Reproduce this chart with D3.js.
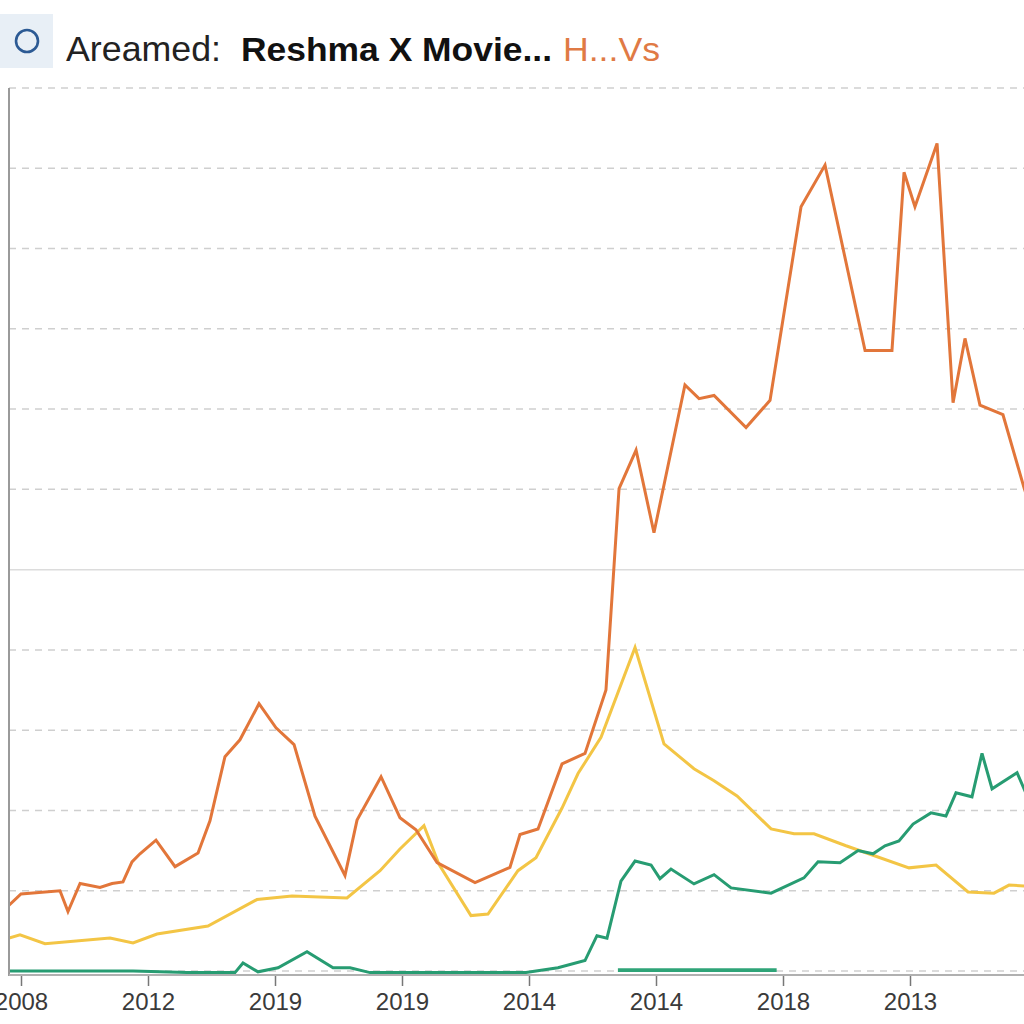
<!DOCTYPE html>
<html>
<head>
<meta charset="utf-8">
<script src="https://cdn.jsdelivr.net/npm/d3@7/dist/d3.min.js"></script>
<style>
  html, body { margin: 0; padding: 0; background: #ffffff; }
  svg { display: block; }
</style>
</head>
<body>
<svg id="chart" width="1024" height="1024"></svg>
<script>
// ---- Data (x in tick-index units, y in value units) ----
const tickLabels = ["2008", "2012", "2019", "2019", "2014", "2014", "2018", "2013", "2"];
const yTicks = [0, 10, 20, 30, 40, 50, 60, 70, 80, 90, 100, 110];

const orangeX = [-0.094, 0, 0.307, 0.370, 0.465, 0.622, 0.717, 0.803, 0.874, 0.937, 1.063, 1.213, 1.394, 1.488, 1.606, 1.724, 1.874, 2.008, 2.150, 2.315, 2.551, 2.646, 2.835, 2.984, 3.110, 3.276, 3.575, 3.850, 3.929, 4.071, 4.260, 4.441, 4.606, 4.709, 4.843, 4.984, 5.228, 5.339, 5.457, 5.709, 5.898, 6.142, 6.331, 6.646, 6.858, 6.953, 7.039, 7.213, 7.339, 7.433, 7.551, 7.732, 7.898, 7.984];
const orangeY = [8.2, 9.6, 10.0, 7.4, 10.9, 10.4, 10.9, 11.1, 13.6, 14.6, 16.3, 13.0, 14.7, 18.7, 26.7, 28.8, 33.3, 30.3, 28.2, 19.3, 11.9, 18.8, 24.2, 19.1, 17.6, 13.5, 11.0, 12.9, 17.0, 17.7, 25.8, 27.1, 35.0, 60.1, 64.9, 54.6, 73.0, 71.3, 71.7, 67.7, 71.1, 95.2, 100.4, 77.3, 77.3, 99.5, 95.2, 103.1, 70.8, 78.8, 70.5, 69.3, 60.2, 56.0];

const yellowX = [-0.094, -0.008, 0.189, 0.701, 0.882, 1.071, 1.472, 1.858, 2.134, 2.567, 2.827, 2.984, 3.173, 3.291, 3.543, 3.677, 3.913, 4.055, 4.260, 4.386, 4.567, 4.835, 5.063, 5.299, 5.457, 5.638, 5.906, 6.087, 6.244, 6.496, 6.992, 7.205, 7.457, 7.661, 7.780, 7.898];
const yellowY = [4.1, 4.5, 3.4, 4.1, 3.5, 4.6, 5.6, 8.9, 9.35, 9.1, 12.5, 15.2, 18.1, 13.3, 6.9, 7.1, 12.5, 14.1, 20.3, 24.6, 29.1, 40.3, 28.3, 25.2, 23.7, 21.8, 17.7, 17.1, 17.1, 15.6, 12.85, 13.2, 9.85, 9.7, 10.7, 10.6];

const greenX = [-0.094, 0.882, 1.307, 1.685, 1.748, 1.866, 2.024, 2.252, 2.457, 2.591, 2.748, 3.976, 4.228, 4.441, 4.535, 4.614, 4.724, 4.835, 4.961, 5.031, 5.118, 5.299, 5.457, 5.591, 5.906, 6.165, 6.276, 6.449, 6.591, 6.709, 6.803, 6.913, 7.024, 7.165, 7.283, 7.362, 7.488, 7.567, 7.646, 7.843, 7.945];
const greenY = [0, 0, -0.2, -0.2, 1.0, -0.1, 0.4, 2.4, 0.4, 0.4, -0.2, -0.2, 0.4, 1.3, 4.4, 4.1, 11.2, 13.7, 13.2, 11.5, 12.7, 10.85, 12.0, 10.35, 9.7, 11.6, 13.6, 13.5, 15.0, 14.6, 15.6, 16.2, 18.3, 19.7, 19.3, 22.2, 21.7, 27.1, 22.7, 24.7, 21.0];

const greenBaseX = [4.70, 5.95];
const greenBaseY = [0.1, 0.1];

const titleParts = ["Areamed:", "Reshma X Movie...", "H...Vs"];

const seriesList = [
  { name: "yellow", xs: yellowX, ys: yellowY, color: "#f3c545", width: 3 },
  { name: "green", xs: greenX, ys: greenY, color: "#279c72", width: 3 },
  { name: "greenBase", xs: greenBaseX, ys: greenBaseY, color: "#2fa478", width: 3.8 },
  { name: "orange", xs: orangeX, ys: orangeY, color: "#e2763a", width: 3 }
];

// ---- Layout ----
const svg = d3.select("#chart");
const W = 1024, H = 1024;
const plotLeft = 9, plotRight = 1024, plotTop = 88, zeroY = 971, axisY = 975;

const x = d3.scaleLinear().domain([0, 8]).range([21, 21 + 127 * 8]);
const y = d3.scaleLinear().domain([0, 110]).range([zeroY, plotTop]);

svg.append("rect").attr("width", W).attr("height", H).attr("fill", "#ffffff");

// ---- Title ----
svg.append("rect").attr("x", 0).attr("y", 14).attr("width", 53).attr("height", 54)
  .attr("fill", "#e8eff6");
svg.append("circle").attr("cx", 27).attr("cy", 41).attr("r", 11)
  .attr("fill", "none").attr("stroke", "#2c5a94").attr("stroke-width", 2.6);

const titleFont = "'Liberation Sans', Arial, sans-serif";
svg.append("text").attr("x", 66).attr("y", 61)
  .attr("font-family", titleFont).attr("font-size", 35)
  .attr("textLength", 155).attr("lengthAdjust", "spacingAndGlyphs")
  .attr("fill", "#222").text(titleParts[0]);
svg.append("text").attr("x", 241).attr("y", 61)
  .attr("font-family", titleFont).attr("font-size", 34).attr("font-weight", "bold")
  .attr("textLength", 311).attr("lengthAdjust", "spacingAndGlyphs")
  .attr("fill", "#111").text(titleParts[1]);
svg.append("text").attr("x", 563).attr("y", 61)
  .attr("font-family", titleFont).attr("font-size", 34)
  .attr("textLength", 97).attr("lengthAdjust", "spacingAndGlyphs")
  .attr("fill", "#e07a45").text(titleParts[2]);

// ---- Gridlines ----
const grid = svg.append("g");
grid.selectAll("line").data(yTicks).enter().append("line")
  .attr("x1", plotLeft).attr("x2", plotRight)
  .attr("y1", d => y(d)).attr("y2", d => y(d))
  .attr("stroke", d => d === 50 ? "#dcdcdc" : "#cfcfcf")
  .attr("stroke-width", 1.5)
  .attr("stroke-dasharray", d => d === 50 ? null : "7,6");

// ---- Lines ----
const lineGen = d3.line().x(d => x(d[0])).y(d => y(d[1]));
const clip = svg.append("clipPath").attr("id", "plotclip");
clip.append("rect").attr("x", plotLeft).attr("y", 0).attr("width", plotRight - plotLeft).attr("height", axisY);

const linesG = svg.append("g").attr("clip-path", "url(#plotclip)");
seriesList.forEach(s => {
  const pts = s.xs.map((v, i) => [v, s.ys[i]]);
  linesG.append("path").datum(pts)
    .attr("d", lineGen)
    .attr("fill", "none")
    .attr("stroke", s.color)
    .attr("stroke-width", s.width)
    .attr("stroke-linejoin", "miter")
    .attr("stroke-linecap", "butt");
});

// ---- Axes ----
svg.append("line").attr("x1", plotLeft).attr("x2", plotLeft)
  .attr("y1", plotTop).attr("y2", axisY + 1)
  .attr("stroke", "#9a9a9a").attr("stroke-width", 2);

const xAxis = d3.axisBottom(x)
  .tickValues(d3.range(tickLabels.length))
  .tickFormat(i => tickLabels[i])
  .tickSize(11)
  .tickPadding(7);

const xg = svg.append("g").attr("transform", `translate(0,${axisY})`).call(xAxis);
xg.select(".domain").remove();
xg.append("line").attr("x1", plotLeft).attr("x2", plotRight).attr("y1", 0).attr("y2", 0)
  .attr("stroke", "#b0b0b0").attr("stroke-width", 2);
xg.selectAll(".tick line").attr("stroke", "#777").attr("stroke-width", 1.5);
xg.selectAll(".tick text")
  .attr("fill", "#3a3a3a")
  .attr("font-family", "'Liberation Sans', Arial, sans-serif")
  .attr("font-size", 24);
</script>
</body>
</html>
